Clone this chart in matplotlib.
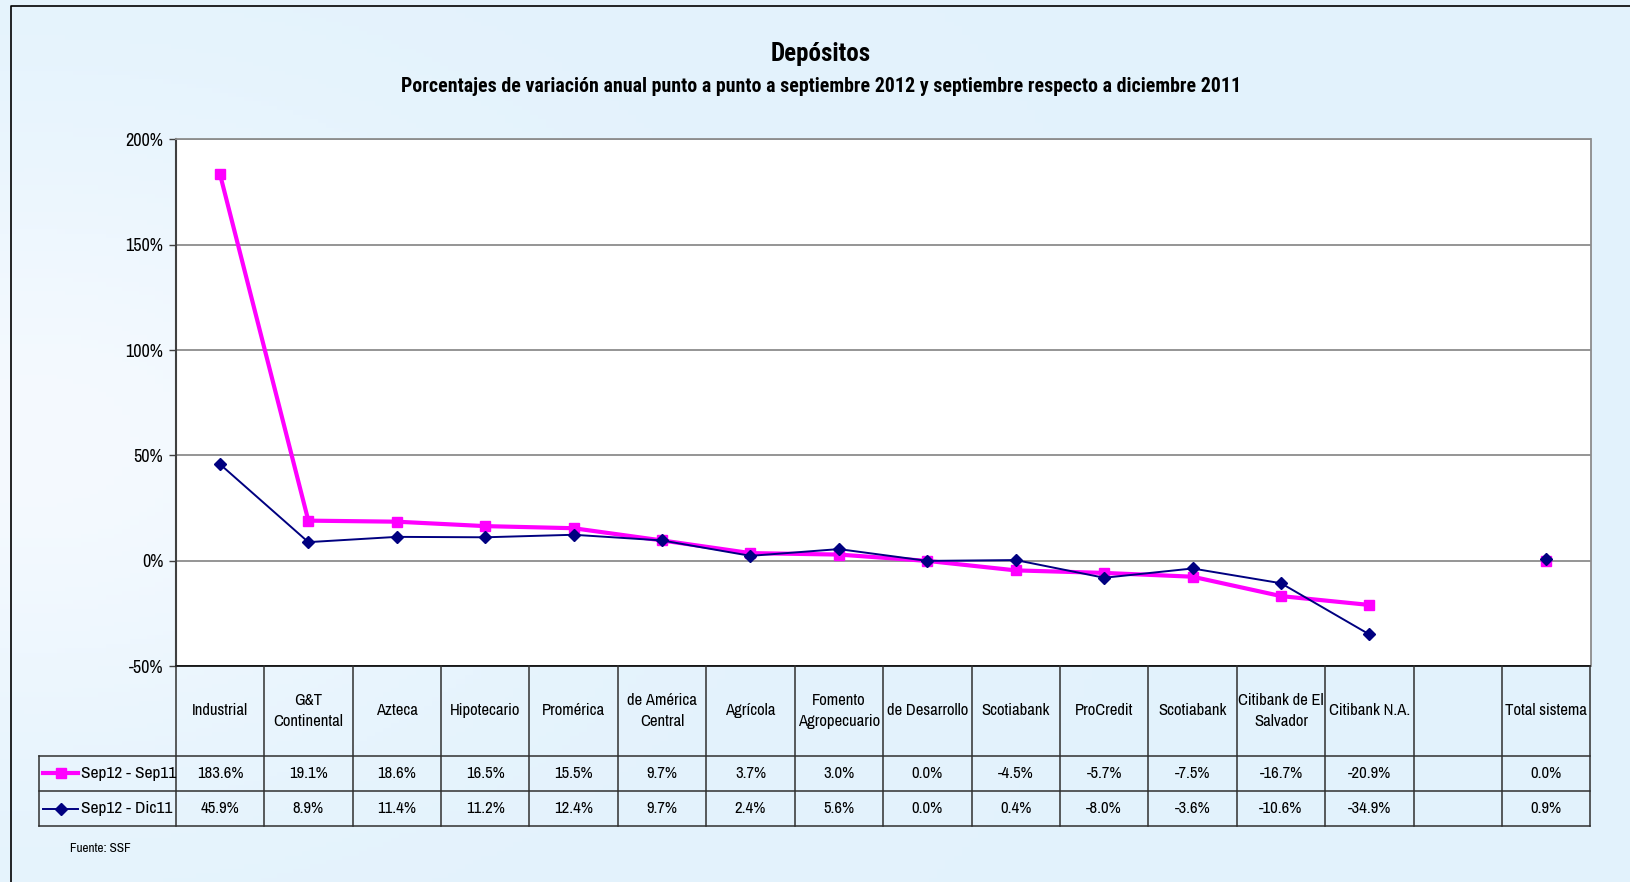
import numpy as np
import matplotlib
matplotlib.use("Agg")
import matplotlib.pyplot as plt
from matplotlib.lines import Line2D

plt.rcParams['font.family'] = ['Archivo Narrow', 'Roboto Condensed', 'DejaVu Sans']
TITLE_FONT = ['Roboto Condensed', 'Archivo Narrow', 'DejaVu Sans']

bancos = ["Industrial", "G&T\nContinental", "Azteca", "Hipotecario", "Promérica",
          "de América\nCentral", "Agrícola", "Fomento\nAgropecuario", "de Desarrollo",
          "Scotiabank", "ProCredit", "Scotiabank", "Citibank de El\nSalvador",
          "Citibank N.A.", "", "Total sistema"]
sep11 = [183.6, 19.1, 18.6, 16.5, 15.5, 9.7, 3.7, 3.0, 0.0, -4.5, -5.7, -7.5, -16.7, -20.9, np.nan, 0.0]
dic11 = [45.9, 8.9, 11.4, 11.2, 12.4, 9.7, 2.4, 5.6, 0.0, 0.4, -8.0, -3.6, -10.6, -34.9, np.nan, 0.9]
series = [("Sep12 - Sep11", sep11, '#FF00FF', 's', 3.0, 7),
          ("Sep12 - Dic11", dic11, '#000080', 'D', 1.4, 6)]

W, H = 1630, 882
fig = plt.figure(figsize=(W / 100, H / 100), dpi=100)

# soft blue background, a little lighter on the left middle
bg = fig.add_axes([0, 0, 1, 1], zorder=-10)
yy, xx = np.mgrid[0:1:200j, 0:1:200j]
g = np.exp(-((xx - 0.02) ** 2 / 0.08 + (yy - 0.5) ** 2 / 0.12))
top = np.array([0.89, 0.95, 0.99])
low = np.array([0.96, 0.98, 1.0])
img = top[None, None, :] * (1 - g[..., None]) + low[None, None, :] * g[..., None]
bg.imshow(img, aspect='auto', extent=[0, 1, 0, 1], origin='upper')
bg.plot([10.5 / W, 10.5 / W, 1.2], [-0.1, 1 - 6 / H, 1 - 6 / H], color='black', lw=1.2)
bg.set_xlim(0, 1)
bg.set_ylim(0, 1)
bg.axis('off')


def fx(px):
    return px / W


def fy(py):
    return 1 - py / H


x0, x1 = 175.7, 1590.5
yt, yb = 139.3, 666.3
ax = fig.add_axes([fx(x0), fy(yb), fx(x1) - fx(x0), fy(yt) - fy(yb)])
ax.set_facecolor('white')
x = np.arange(len(bancos))
for name, vals, col, mk, lw, ms in series:
    ax.plot(x, vals, color=col, marker=mk, lw=lw, ms=ms, label=name,
            markeredgecolor=col, clip_on=False, zorder=3)
ax.set_xlim(-0.5, len(bancos) - 0.5)
ax.set_ylim(-50, 200)
ax.set_yticks([-50, 0, 50, 100, 150, 200])
ax.set_yticklabels([f"{v}%" for v in [-50, 0, 50, 100, 150, 200]], fontsize=13)
ax.set_xticks([])
ax.yaxis.grid(True, color='#8c8c8c', lw=1.3)
ax.set_axisbelow(True)
ax.tick_params(axis='y', length=5, width=1, color='#404040', pad=4)
ax.spines['left'].set_color('#404040')
ax.spines['left'].set_linewidth(1.5)
ax.spines['bottom'].set_color('black')
ax.spines['bottom'].set_linewidth(1.2)
for s in ['top', 'right']:
    ax.spines[s].set_color('#8c8c8c')
    ax.spines[s].set_linewidth(1.3)

# data table below the plot
r0, r1, r2, r3 = 666.3, 755.7, 791.0, 826.4
leg_left = 38.5
tab = fig.add_axes([fx(x0), fy(r3), fx(x1) - fx(x0), fy(r0) - fy(r3)])
tab.set_xlim(-0.5, len(bancos) - 0.5)
tab.set_ylim(r3, r0)
tab.axis('off')
tab.patch.set_alpha(0)
colw = (x1 - x0) / len(bancos)
xl = -0.5 - (x0 - leg_left) / colw
lk = dict(color='#303030', lw=1.1, clip_on=False)
for i in range(len(bancos) + 1):
    tab.plot([i - 0.5, i - 0.5], [r0, r3], **lk)
tab.plot([xl, xl], [r1, r3], **lk)
for yv in [r1, r2, r3]:
    tab.plot([xl, len(bancos) - 0.5], [yv, yv], **lk)
for i, b in enumerate(bancos):
    tab.text(i, (r0 + r1) / 2, b, ha='center', va='center', fontsize=12,
             linespacing=1.45)
for (name, vals, col, mk, lw, ms), (ya, yb2) in zip(series, [(r1, r2), (r2, r3)]):
    ym = (ya + yb2) / 2
    for i, v in enumerate(vals):
        if not np.isnan(v):
            tab.text(i, ym, f"{v:.1f}%", ha='center', va='center', fontsize=12)
    lx0 = xl + 0.05
    lx1 = xl + 0.45
    tab.add_line(Line2D([lx0, lx1], [ym, ym], color=col, lw=lw, clip_on=False))
    tab.plot([(lx0 + lx1) / 2], [ym], marker=mk, color=col, ms=ms, clip_on=False)
    tab.text(lx1 + 0.03, ym, name, ha='left', va='center', fontsize=12.5)

fig.text(fx(821), fy(54), "Depósitos", ha='center', va='center',
         fontsize=18, fontweight='bold', family=TITLE_FONT)
fig.text(fx(821), fy(87), "Porcentajes de variación anual punto a punto a septiembre 2012 "
         "y septiembre respecto a diciembre 2011", ha='center', va='center',
         fontsize=14.3, fontweight='bold', family=TITLE_FONT)
fig.text(fx(70), fy(849), "Fuente: SSF", ha='left', va='center', fontsize=9.5)

fig.savefig("out.png", dpi=100)
